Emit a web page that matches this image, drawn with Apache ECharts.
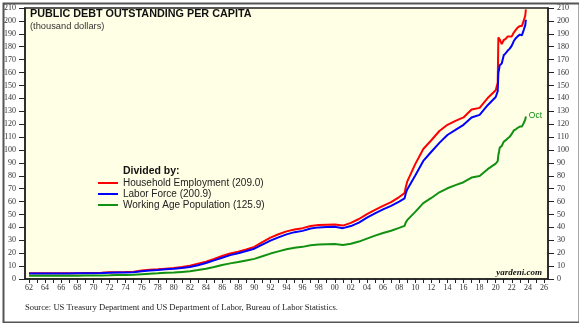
<!DOCTYPE html>
<html>
<head>
<meta charset="utf-8">
<script src="https://cdn.jsdelivr.net/npm/echarts@6/dist/echarts.min.js"></script>
<style>html,body{margin:0;padding:0;background:#fff;}#c{width:579px;height:323px;}</style>
</head>
<body>
<div id="c"></div>
<script>
// x positions (year, fractional for months)
const years = [1962,1963,1964,1965,1966,1967,1968,1969,1970,1971,1972,1973,1974,1975,1976,1977,1978,1979,1980,1981,1982,1983,1984,1985,1986,1987,1988,1989,1990,1991,1992,1993,1994,1995,1996,1997,1998,1999,2000,2001,2002,2003,2004,2005,2006,2007,2008,2008.67,2008.83,2009,2010,2011,2012,2013,2014,2015,2016,2017,2018,2019,2020,2020.25,2020.33,2020.42,2020.5,2020.58,2020.75,2021,2021.25,2021.5,2021.75,2022,2022.25,2022.5,2022.75,2023,2023.25,2023.42,2023.5,2023.58,2023.67,2023.75];
const householdEmployment = [4.4,4.5,4.5,4.5,4.4,4.4,4.5,4.6,4.7,4.9,5.2,5.3,5.4,5.7,6.5,7.1,7.5,8.0,8.5,9.3,10.3,11.9,13.4,15.5,17.8,19.7,21.2,22.9,24.9,28.6,32.1,34.7,36.9,38.4,39.4,41.1,41.8,42.1,42.2,41.4,43.5,46.5,50.2,53.6,56.6,59.5,63.5,66.5,71.3,75.4,89.0,100.7,107.5,114.7,119.5,122.5,125.2,131.3,132.6,140.2,146.2,152.0,187.2,187.3,185.6,185.0,182.0,185.2,186.0,188.0,188.0,188.0,191.0,193.0,195.0,196.0,196.0,195.5,200.6,202.0,204.0,209.0];
const laborForce = [4.2,4.2,4.2,4.3,4.2,4.3,4.4,4.4,4.4,4.6,4.9,5.0,5.1,5.3,6.0,6.6,7.0,7.5,7.9,8.6,9.3,10.7,12.4,14.4,16.5,18.5,20.0,21.7,23.5,26.6,29.7,32.3,34.6,36.3,37.3,39.1,40.0,40.3,40.5,39.4,41.0,43.7,47.5,50.9,54.0,56.7,60.0,62.4,66.5,69.4,80.2,91.5,98.6,105.5,111.6,115.5,119.5,125.1,127.2,134.7,141.0,145.5,159.6,162.5,165.7,166.0,167.0,173.4,175.0,177.0,178.5,180.8,184.4,186.6,188.2,189.4,188.8,188.6,193.3,194.4,196.5,200.9];
const workingAgePopulation = [2.5,2.5,2.5,2.5,2.5,2.5,2.6,2.7,2.7,2.8,2.9,3.1,3.1,3.2,3.7,4.1,4.4,4.8,5.0,5.5,6.0,6.9,8.0,9.3,10.8,12.1,13.2,14.4,15.6,17.6,19.7,21.4,23.1,24.2,24.9,26.2,26.8,27.0,27.2,26.3,27.3,29.0,31.3,33.6,35.7,37.4,39.6,41.2,43.9,45.6,52.0,58.8,62.8,67.2,70.3,72.7,75.0,78.6,79.8,85.1,89.4,91.3,96.1,98.8,101.8,102.1,103.1,106.4,107.6,109.0,110.3,112.5,115.1,116.0,117.2,118.1,118.1,118.0,121.1,122.1,123.5,125.9];
const seriesNames = ['Household Employment (209.0)','Labor Force (200.9)','Working Age Population (125.9)'];
const xTickValues = []; for (let y = 1962; y <= 2026; y++) xTickValues.push(y);
const xLabelValues = []; for (let y = 1962; y <= 2026; y += 2) xLabelValues.push(y);

const pairs = arr => years.map((x, i) => [x, arr[i]]);
const serif = '"Liberation Serif","Times New Roman",serif';
const sans = '"Liberation Sans",Arial,sans-serif';

const chart = echarts.init(document.getElementById('c'), null, {renderer: 'canvas'});
const yAxisCommon = {
  type: 'value', min: 0, max: 210, interval: 10,
  axisLine: {show: true, lineStyle: {color: '#222', width: 1.5}},
  axisTick: {show: true, length: 6, lineStyle: {color: '#222'}},
  splitLine: {show: false},
  axisLabel: {fontFamily: serif, fontSize: 8, color: '#333', margin: 9}
};
chart.setOption({
  animation: false,
  backgroundColor: '#fff',
  grid: {left: 25, right: 31, top: 8, bottom: 44, show: true, backgroundColor: '#FFFFE6', borderColor: '#222', borderWidth: 1.5},
  xAxis: {
    type: 'value', min: 1961.5, max: 2026.5,
    axisLine: {show: true, onZero: false, lineStyle: {color: '#222', width: 1.5}},
    axisTick: {show: true, length: 4, customValues: xTickValues, lineStyle: {color: '#222'}},
    splitLine: {show: false},
    axisLabel: {customValues: xLabelValues, fontFamily: serif, fontSize: 8, color: '#333', margin: 5,
      formatter: v => String(Math.round(v) % 100).padStart(2, '0')}
  },
  yAxis: [
    Object.assign({}, yAxisCommon, {position: 'left'}),
    Object.assign({}, yAxisCommon, {position: 'right'})
  ],
  legend: {
    orient: 'vertical', left: 98, top: 178, itemWidth: 20, itemHeight: 2, itemGap: 1, icon: 'rect',
    padding: 0,
    textStyle: {fontFamily: sans, fontSize: 10, color: '#222', lineHeight: 10},
    data: seriesNames
  },
  title: {
    text: 'PUBLIC DEBT OUTSTANDING PER CAPITA', subtext: '(thousand dollars)',
    left: 30, top: 9, padding: 0, itemGap: 2,
    textStyle: {fontFamily: sans, fontSize: 10.8, fontWeight: 'bold', color: '#111'},
    subtextStyle: {fontFamily: sans, fontSize: 9.3, color: '#333'}
  },
  graphic: [
    {type: 'rect', left: 1, top: 1, shape: {width: 576, height: 319}, style: {fill: 'none', stroke: '#555', lineWidth: 2}, silent: true},
    {type: 'text', left: 123, top: 166, style: {text: 'Divided by:', font: 'bold 10.5px "Liberation Sans", Arial, sans-serif', fill: '#111'}},
    {type: 'text', right: 37, top: 268, style: {text: 'yardeni.com', font: 'italic bold 9px "Liberation Serif", serif', fill: '#111'}},
    {type: 'text', left: 25, top: 303, style: {text: 'Source: US Treasury Department and US Department of Labor, Bureau of Labor Statistics.', font: '8.6px "Liberation Serif", serif', fill: '#222'}}
  ],
  series: [
    {name: seriesNames[0], type: 'line', data: pairs(householdEmployment), symbol: 'none', color: '#FF0000', lineStyle: {width: 2, color: '#FF0000'}},
    {name: seriesNames[1], type: 'line', data: pairs(laborForce), symbol: 'none', color: '#0000FF', lineStyle: {width: 2, color: '#0000FF'}},
    {name: seriesNames[2], type: 'line', data: pairs(workingAgePopulation), symbol: 'none', color: '#119111', lineStyle: {width: 2, color: '#119111'},
     endLabel: {show: true, formatter: 'Oct', color: '#119111', fontFamily: sans, fontSize: 8.5, distance: 3, offset: [0, -1]}}
  ]
});
</script>
</body>
</html>
